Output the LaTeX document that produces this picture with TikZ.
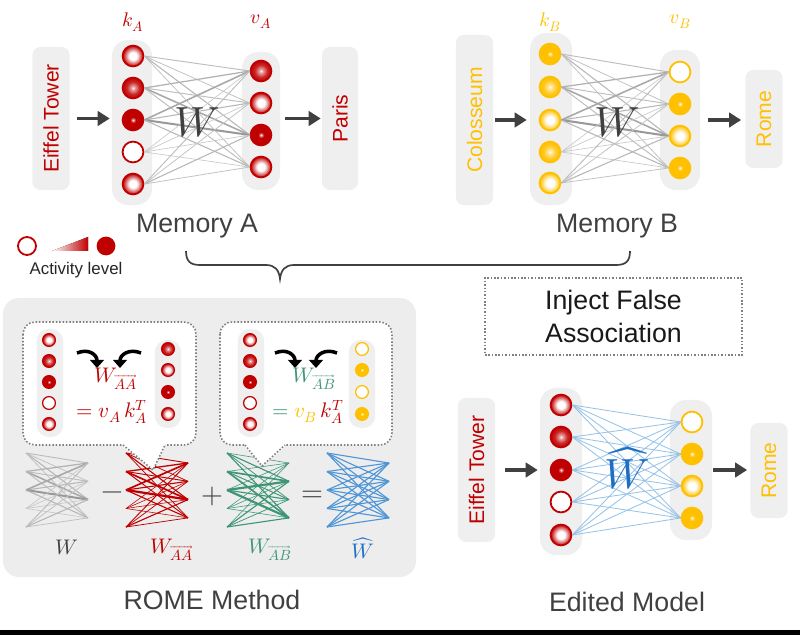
\documentclass[tikz,border=0pt]{standalone}
\usepackage{fontspec}
\usepackage{unicode-math}
\setmainfont{Liberation Sans}
\setmathfont{Latin Modern Math}
\usetikzlibrary{arrows.meta}

\definecolor{memred}{HTML}{C00000}
\definecolor{memyel}{HTML}{FFC000}
\definecolor{memgreen}{RGB}{62,150,118}
\definecolor{memblue}{RGB}{30,110,195}
\definecolor{edgeblue}{RGB}{80,150,215}
\definecolor{lightblue}{RGB}{150,195,232}
\definecolor{txtgray}{HTML}{404040}
\definecolor{boxgray}{HTML}{EFEFEF}
\definecolor{panelgray}{HTML}{EDEDED}
\definecolor{dotgray}{HTML}{7F7F7F}

\pgfdeclareradialshading{shR1}{\pgfpoint{0bp}{0bp}}{color(0bp)=(white); color(9bp)=(white); color(25bp)=(memred); color(50bp)=(memred)}
\pgfdeclareradialshading{shR2}{\pgfpoint{0bp}{0bp}}{color(0bp)=(white); color(3bp)=(memred!30); color(15bp)=(memred!85); color(25bp)=(memred); color(50bp)=(memred)}
\pgfdeclareradialshading{shR3}{\pgfpoint{0bp}{0bp}}{color(0bp)=(white); color(2bp)=(memred!40); color(7bp)=(memred); color(25bp)=(memred); color(50bp)=(memred)}
\pgfdeclareradialshading{shY1}{\pgfpoint{0bp}{0bp}}{color(0bp)=(white); color(9bp)=(white); color(25bp)=(memyel); color(50bp)=(memyel)}
\pgfdeclareradialshading{shY2}{\pgfpoint{0bp}{0bp}}{color(0bp)=(white); color(3bp)=(memyel!30); color(15bp)=(memyel!85); color(25bp)=(memyel); color(50bp)=(memyel)}
\pgfdeclareradialshading{shY3}{\pgfpoint{0bp}{0bp}}{color(0bp)=(white); color(2bp)=(memyel!40); color(7bp)=(memyel); color(25bp)=(memyel); color(50bp)=(memyel)}

\tikzset{
  neu/.style={circle, inner sep=0pt, minimum size=0.52cm, line width=1.3pt},
  sm/.style={minimum size=0.32cm, line width=0.9pt},
  nR0/.style={neu, draw=memred, fill=white},
  nR1/.style={neu, draw=memred, shade, shading=shR1},
  nR2/.style={neu, draw=memred, shade, shading=shR2},
  nR3/.style={neu, draw=memred, shade, shading=shR3},
  nY0/.style={neu, draw=memyel, fill=white},
  nY1/.style={neu, draw=memyel, shade, shading=shY1},
  nY2/.style={neu, draw=memyel, shade, shading=shY2},
  nY3/.style={neu, draw=memyel, shade, shading=shY3},
  strip/.style={fill=boxgray, rounded corners=0.4cm, minimum width=1cm, inner sep=0pt},
  sstrip/.style={fill=boxgray, rounded corners=0.3cm, minimum width=0.66cm, inner sep=0pt},
  tbox/.style={fill=boxgray, rounded corners=0.2cm, rotate=90, minimum height=0.93cm, inner sep=0pt, font=\fontsize{15}{18}\selectfont},
  bigarr/.style={draw=txtgray, line width=2.2pt, -{Triangle[length=0.3cm, width=0.36cm]}},
  curv/.style={line width=2.5pt, -{Triangle[length=0.2cm, width=0.34cm]}},
  title/.style={text=txtgray, font=\fontsize{19}{23}\selectfont},
  dotln/.style={draw=dotgray, line width=1.1pt, dash pattern=on 1.1pt off 1.3pt},
  lbl/.style={font=\fontsize{14}{16}\selectfont},
  eqn/.style={font=\fontsize{15}{17}\selectfont, inner sep=0.5pt},
  bigw/.style={font=\fontsize{30}{30}\selectfont}
}

\begin{document}
\begin{tikzpicture}[x=0.025cm, y=-0.025cm]
\useasboundingbox (0,0) rectangle (800,635);
\fill[black] (0,630) rectangle (800,635);

\node[strip, minimum height=4.125cm] (skA) at (132,122.5) {};
\node[strip, minimum width=0.95cm, minimum height=3.45cm] (svA) at (261,121) {};
\node[tbox, text=memred, minimum width=3.575cm] (etA) at (51,118.5) {Eiffel Tower};
\node[tbox, text=memred, minimum width=3.575cm, minimum height=0.9cm] (parA) at (340,118.5) {Paris};
\node[nR1] (kA1) at (133,56) {};
\node[nR2] (kA2) at (133,88) {};
\node[nR3] (kA3) at (133,120) {};
\node[nR0] (kA4) at (133,152) {};
\node[nR1] (kA5) at (133,184) {};
\node[nR2] (vA1) at (261,71) {};
\node[nR1] (vA2) at (261,103) {};
\node[nR3] (vA3) at (261,135) {};
\node[nR1] (vA4) at (261,167) {};

\node[strip, minimum width=1.05cm, minimum height=4.3cm] (skB) at (551,119) {};
\node[strip, minimum height=3.5cm] (svB) at (680,120) {};
\node[tbox, text=memyel, minimum width=4.25cm] (colB) at (474.5,120) {Colosseum};
\node[tbox, text=memyel, minimum width=2.45cm] (romB) at (764,119) {Rome};
\node[nY3] (kB1) at (550,54) {};
\node[nY2] (kB2) at (550,87) {};
\node[nY1] (kB3) at (550,120) {};
\node[nY2] (kB4) at (550,152) {};
\node[nY1] (kB5) at (550,183) {};
\node[nY0] (vB1) at (680,72) {};
\node[nY3] (vB2) at (680,104) {};
\node[nY1] (vB3) at (680,136) {};
\node[nY3] (vB4) at (680,168) {};

\node[strip, minimum width=1.05cm, minimum height=4.175cm] (skE) at (561,471.5) {};
\node[strip, minimum width=1.05cm, minimum height=3.5cm] (svE) at (691,470) {};
\node[tbox, text=memred, minimum width=3.6cm] (etE) at (476.5,470) {Eiffel Tower};
\node[tbox, text=memyel, minimum width=2.375cm] (romE) at (769,470.5) {Rome};
\node[nR1] (kE1) at (561,405) {};
\node[nR2] (kE2) at (561,437) {};
\node[nR3] (kE3) at (561,470) {};
\node[nR0] (kE4) at (561,502) {};
\node[nR1] (kE5) at (561,535) {};
\node[nY0] (vE1) at (692,422) {};
\node[nY3] (vE2) at (692,454) {};
\node[nY1] (vE3) at (692,486) {};
\node[nY3] (vE4) at (692,518) {};

\fill[panelgray, rounded corners=0.4cm] (3,298) rectangle (416,577);
\foreach \gx/\gn in {26/gw,126/gaa,227/gab,327/gh} {
  \foreach \i in {1,...,5} \coordinate (\gn L\i) at (\gx, {453+18.5*(\i-1)});
  \foreach \j in {1,...,4} \coordinate (\gn R\j) at (\gx+62, {463+18.3*(\j-1)});
}

\foreach \i/\a in {1/1,2/2,3/3,4/0,5/1} {
  \foreach \j/\b/\c in {1/2/0,2/1/3,3/3/1,4/1/3} {
    \pgfmathsetmacro\lwg{0.45+0.11*\a*\b}
    \pgfmathtruncatemacro\gs{22+2*\a*\b}
    \pgfmathsetmacro\lwr{0.4+0.13*\a*\b}
    \pgfmathsetmacro\lwn{0.4+0.13*\a*\c}
    \draw[line width=\lwg pt, black!\gs] (kA\i.east) -- (vA\j.west);
    \draw[line width=\lwg pt, black!\gs] (kB\i.east) -- (vB\j.west);
    \draw[line width=\lwg pt, black!\gs] (gwL\i) -- (gwR\j);
    \draw[line width=\lwr pt, memred] (gaaL\i) -- (gaaR\j);
    \draw[line width=\lwn pt, memgreen] (gabL\i) -- (gabR\j);
    \draw[line width=0.8pt, edgeblue] (ghL\i) -- (ghR\j);
    \draw[line width=0.6pt, lightblue] (kE\i.east) -- (vE\j.west);
  }
}

\fill[white, rounded corners=0.3cm] (23,322) rectangle (196,445);
\draw[dotln, rounded corners=0.3cm] (23,322) rectangle (196,445);
\fill[white] (123,443) -- (123,446.5) -- (153,470) -- (165,446.5) -- (165,443) -- cycle;
\draw[dotln] (123,445) -- (153,470) -- (165,445);
\node[sstrip, minimum height=2.7cm] (sk1) at (50,383) {};
\node[sstrip, minimum height=2.2cm] (sv1) at (168,384) {};
\node[nR1, sm] (c1k1) at (49,340) {};
\node[nR2, sm] (c1k2) at (49,361) {};
\node[nR3, sm] (c1k3) at (49,382) {};
\node[nR0, sm] (c1k4) at (49,403) {};
\node[nR1, sm] (c1k5) at (49,424) {};
\node[nR2, sm] (c1v1) at (168,349) {};
\node[nR1, sm] (c1v2) at (168,370) {};
\node[nR3, sm] (c1v3) at (168,392) {};
\node[nR1, sm] (c1v4) at (168,414) {};
\draw[curv] (77,353) .. controls (89,348) and (97,355) .. (97,368);
\draw[curv] (141,353) .. controls (129,348) and (120,355) .. (120,368);
\node[eqn, text=memred] (eqA1) at (116,379) {$W_{\overrightarrow{AA}}$};
\node[eqn, text=memred] (eqA2) at (112,412) {$= v_A\, k_A^T$};

\fill[white, rounded corners=0.3cm] (220,322) rectangle (392,445);
\draw[dotln, rounded corners=0.3cm] (220,322) rectangle (392,445);
\fill[white] (245,443) -- (245,446.5) -- (262,466) -- (285,446.5) -- (285,443) -- cycle;
\draw[dotln] (245,445) -- (262,466) -- (285,445);
\node[sstrip, minimum height=2.7cm] (sk2) at (251,383) {};
\node[sstrip, minimum height=2.2cm] (sv2) at (362,384) {};
\node[nR1, sm] (c2k1) at (250,340) {};
\node[nR2, sm] (c2k2) at (250,361) {};
\node[nR3, sm] (c2k3) at (250,382) {};
\node[nR0, sm] (c2k4) at (250,403) {};
\node[nR1, sm] (c2k5) at (250,424) {};
\node[nY0, sm] (c2v1) at (362,349) {};
\node[nY3, sm] (c2v2) at (362,370) {};
\node[nY0, sm] (c2v3) at (362,392) {};
\node[nY3, sm] (c2v4) at (362,414) {};
\draw[curv] (275,353) .. controls (287,348) and (295,355) .. (295,368);
\draw[curv] (337,353) .. controls (325,348) and (316,355) .. (316,368);
\node[eqn, text=memgreen] (eqB1) at (314,379) {$W_{\overrightarrow{AB}}$};
\node[eqn, text=memgreen] (eqB2) at (308,412) {$= {\color{memyel}v_B}\,{\color{memred}k_A^T}$};

\node[text=txtgray, font=\fontsize{20}{20}\selectfont] (opm) at (112,496) {$-$};
\node[text=txtgray, font=\fontsize{20}{20}\selectfont] (opp) at (212,496) {$+$};
\node[text=txtgray, font=\fontsize{20}{20}\selectfont] (ope) at (312,496) {$=$};
\node[eqn, text=txtgray] (lW) at (67,548) {$W$};
\node[eqn, text=memred] (lWaa) at (172,550) {$W_{\overrightarrow{AA}}$};
\node[eqn, text=memgreen] (lWab) at (270,550) {$W_{\overrightarrow{AB}}$};
\node[eqn, text=memblue] (lWh) at (363,548) {$\widehat{W}$};

\node[lbl, text=memred] (lkA) at (133,22) {$k_A$};
\node[lbl, text=memred] (lvA) at (261,22) {$v_A$};
\node[lbl, text=memyel] (lkB) at (550,22) {$k_B$};
\node[lbl, text=memyel] (lvB) at (680,22) {$v_B$};
\node[bigw, text=txtgray] (wA) at (197,123) {$W$};
\node[bigw, text=txtgray] (wB) at (617,123) {$W$};
\node[bigw, text=memblue] (wE) at (627,468) {$\widehat{W}$};

\draw[bigarr, shorten <=0.175cm, shorten >=0.05cm] (etA.south) -- (etA.south -| skA.west);
\draw[bigarr, shorten <=0.125cm, shorten >=0.025cm] (svA.east |- etA.south) -- (etA.south -| parA.north);
\draw[bigarr, shorten <=0.05cm, shorten >=0.075cm] (colB.south) -- (colB.south -| skB.west);
\draw[bigarr, shorten <=0.2cm, shorten >=0.1cm] (svB.east |- colB.south) -- (colB.south -| romB.north);
\draw[bigarr, shorten <=0.25cm, shorten >=0.05cm] (etE.south) -- (etE.south -| skE.west);
\draw[bigarr, shorten <=0.025cm, shorten >=0.075cm] (svE.east |- etE.south) -- (etE.south -| romE.north);

\node[title] (memA) at (197,226) {Memory A};
\node[title] (memB) at (617,226) {Memory B};
\node[title] (rome) at (212,600) {ROME Method};
\node[title] (edit) at (627,602) {Edited Model};

\draw[txtgray, line width=1.2pt] (186,251) .. controls (186,261) and (190,265) .. (200,265) -- (266,265) .. controls (275,265) and (279,270) .. (280,279) .. controls (281,270) and (285,265) .. (294,265) -- (616,265) .. controls (626,265) and (630,261) .. (630,251);

\node[dotln, minimum width=6.425cm, minimum height=1.925cm, align=center, text=black!90, font=\fontsize{19}{23}\selectfont] (inj) at (613.5,316.5) {Inject False\\Association};

\node[nR0, minimum size=0.45cm] (lgLo) at (27,246) {};
\fill[left color=white, right color=memred] (52,251) -- (88,237) -- (88,251) -- cycle;
\node[circle, fill=memred, minimum size=0.47cm, inner sep=0pt] (lgHi) at (106,246) {};
\node[text=black!85, font=\fontsize{12}{14}\selectfont] (lgTxt) at (76,270) {Activity level};
\end{tikzpicture}
\end{document}
